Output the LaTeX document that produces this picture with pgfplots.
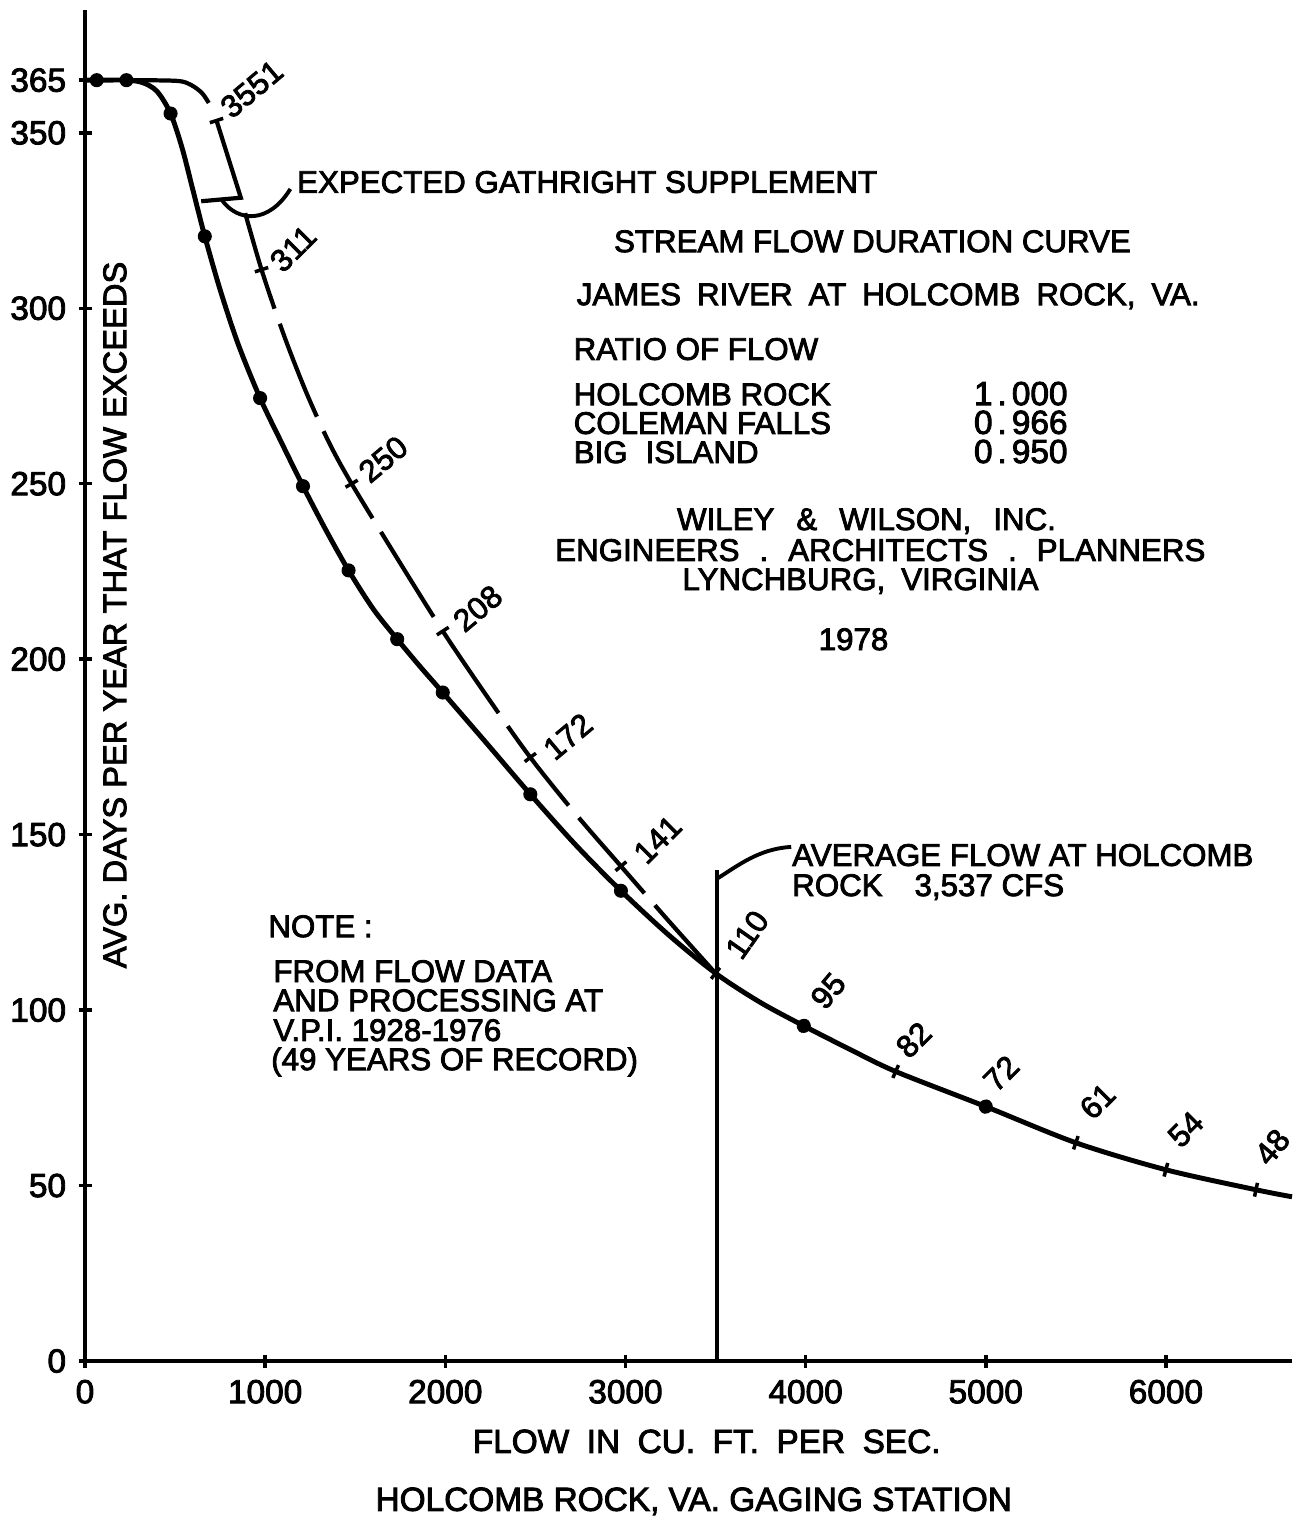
\documentclass[border=0pt]{standalone}
\usepackage{fontspec}
\setmainfont{Liberation Sans}[FakeBold=2.6]
\usepackage{pgfplots}
\pgfplotsset{compat=1.18}
\newcommand\fs{\fontsize{8.9}{8.9}\selectfont}
\newcommand\fl{\fontsize{9.5}{9.5}\selectfont}
\begin{document}
\begin{tikzpicture}
\begin{axis}[
  at={(0,0)}, anchor=south west,
  scale only axis, width=120.7mm, height=135.1mm,
  xmin=0, xmax=6700, ymin=0, ymax=385,
  axis x line=bottom, axis y line=left,
  axis line style={-, line width=1.2pt},
  xtick={0,1000,2000,3000,4000,5000,6000},
  ytick={0,50,100,150,200,250,300,350,365},
  tick align=center, major tick length=1.3mm,
  tick style={line width=1pt, black},
  ticklabel style={font=\fontsize{9.5}{9.5}\selectfont},
  /pgf/number format/assume math mode=true,
  /pgf/number format/1000 sep={},
  clip=false,
]
% main (solid) flow duration curve
\addplot[line width=1.4pt, smooth, tension=0.5] coordinates {
 (0,365) (65,365) (230,365) (320,364.3) (400,361.8) (475,355.5) (540,345.5)
 (600,333.5) (665,320.5) (750,305.3) (850,289.8) (972,274.4) (1090,261.8)
 (1210,249.3) (1335,237) (1463,225.3) (1600,214.3) (1733,205.7) (1860,197.9)
 (1986,190.5) (2230,176) (2472,161.5) (2725,147) (2975,134) (3240,121.4)
 (3500,110.5) (3745,102.3) (3990,95.5) (4250,88.7) (4500,82.5) (5000,72.5)
 (5500,62.2) (6000,54.5) (6500,48.8) (6700,46.8)};
% dots on the curve
\addplot[only marks, mark=*, mark size=1.8pt] coordinates {
 (65,365) (230,365) (475,355.5) (665,320.5) (972,274.4) (1210,249.3) (1463,225.3)
 (1733,205.7) (1986,190.5) (2472,161.5) (2975,134) (3990,95.5) (5000,72.5)};
% tick marks on the solid curve
\addplot[only marks, mark=|, mark size=2pt, mark options={line width=1pt, rotate=-38}] coordinates {(3500,110.5)};
\addplot[only marks, mark=|, mark size=2pt, mark options={line width=1pt, rotate=-28}] coordinates {(3990,95.5)};
\addplot[only marks, mark=|, mark size=2pt, mark options={line width=1pt, rotate=-24}] coordinates {(4500,82.5)};
\addplot[only marks, mark=|, mark size=2pt, mark options={line width=1pt, rotate=-21}] coordinates {(5000,72.5)};
\addplot[only marks, mark=|, mark size=2pt, mark options={line width=1pt, rotate=-19}] coordinates {(5500,62.2)};
\addplot[only marks, mark=|, mark size=2pt, mark options={line width=1pt, rotate=-15}] coordinates {(6000,54.5)};
\addplot[only marks, mark=|, mark size=2pt, mark options={line width=1pt, rotate=-12}] coordinates {(6500,48.8)};
% Gathright supplemented curve: top part (solid)
\addplot[line width=1.2pt, smooth] coordinates {
 (230,365) (510,364.8) (590,363.6) (650,361.3) (687,358.5)};
% bracket
\addplot[line width=1.2pt] coordinates {(645,330.5) (865,331.5) (730,353.5)};
% dashed supplemented curve
\addplot[line width=1.2pt, smooth, dash pattern=on 10mm off 1.6mm, dash phase=10mm] coordinates {
 (865,331.5) (980,311) (1105,292.2) (1230,275.8) (1355,261.7) (1480,250)
 (1730,229) (1986,208) (2230,189.5) (2472,172) (2725,155.8) (2975,141)
 (3240,125.4) (3500,110.5)};
% tick marks on dashed curve
\addplot[only marks, mark=|, mark size=2pt, mark options={line width=1pt, rotate=-72}] coordinates {(730,353.5)};
\addplot[only marks, mark=|, mark size=2pt, mark options={line width=1pt, rotate=-72}] coordinates {(980,311)};
\addplot[only marks, mark=|, mark size=2pt, mark options={line width=1pt, rotate=-60}] coordinates {(1480,250)};
\addplot[only marks, mark=|, mark size=2pt, mark options={line width=1pt, rotate=-57}] coordinates {(1986,208)};
\addplot[only marks, mark=|, mark size=2pt, mark options={line width=1pt, rotate=-53}] coordinates {(2472,172)};
\addplot[only marks, mark=|, mark size=2pt, mark options={line width=1pt, rotate=-50}] coordinates {(2975,141)};
% average flow line
\addplot[line width=1.1pt] coordinates {(3510,0) (3510,140)};
\draw[line width=1.1pt] (axis cs:3510,137.5) .. controls (axis cs:3620,141) and (axis cs:3740,146) .. (axis cs:3920,146.5);
% leader for Gathright supplement
\draw[line width=1.1pt] (axis cs:760,330.8) .. controls (axis cs:850,324.5) and (axis cs:1020,324) .. (axis cs:1140,334);

% curve labels
\node[font=\fs, rotate=40] at (axis cs:925,362.5) {3551};
\node[font=\fs, rotate=45] at (axis cs:1155,317) {311};
\node[font=\fs, rotate=40] at (axis cs:1655,257) {250};
\node[font=\fs, rotate=40] at (axis cs:2180,214.5) {208};
\node[font=\fs, rotate=40] at (axis cs:2680,178) {172};
\node[font=\fs, rotate=45] at (axis cs:3178,148.6) {141};
\node[font=\fs, rotate=55] at (axis cs:3675,121.5) {110};
\node[font=\fs, rotate=50] at (axis cs:4125,105.5) {95};
\node[font=\fs, rotate=45] at (axis cs:4600,91.5) {82};
\node[font=\fs, rotate=45] at (axis cs:5085,82) {72};
\node[font=\fs, rotate=45] at (axis cs:5620,74) {61};
\node[font=\fs, rotate=45] at (axis cs:6110,66) {54};
\node[font=\fs, rotate=50] at (axis cs:6590,61) {48};

% text blocks
\node[font=\fs, anchor=base west, inner sep=0] at (axis cs:1174,332.9) {EXPECTED GATHRIGHT SUPPLEMENT};
\node[font=\fs, anchor=base, inner sep=0] at (axis cs:4371,316.0) {STREAM FLOW DURATION CURVE};
\node[font=\fs, anchor=base west, inner sep=0] at (axis cs:2726,300.9) {JAMES\hspace{1.6mm}RIVER\hspace{1.6mm}AT\hspace{1.6mm}HOLCOMB\hspace{1.6mm}ROCK,\hspace{1.6mm}VA.};
\node[font=\fs, anchor=base west, inner sep=0] at (axis cs:2709,285.3) {RATIO OF FLOW};
\node[font=\fs, anchor=base west, inner sep=0] at (axis cs:2709,272.4) {HOLCOMB ROCK};
\node[font=\fs, anchor=base west, inner sep=0] at (axis cs:2709,264.2) {COLEMAN FALLS};
\node[font=\fs, anchor=base west, inner sep=0] at (axis cs:2709,255.9) {BIG\hspace{1.8mm}ISLAND};
\node[font=\fl, anchor=base west, inner sep=0] at (axis cs:4931,272.4) {1\hspace{0.5mm}.\hspace{0.5mm}000};
\node[font=\fl, anchor=base west, inner sep=0] at (axis cs:4931,264.2) {0\hspace{0.5mm}.\hspace{0.5mm}966};
\node[font=\fl, anchor=base west, inner sep=0] at (axis cs:4931,255.9) {0\hspace{0.5mm}.\hspace{0.5mm}950};
\node[font=\fs, anchor=base, inner sep=0] at (axis cs:4338,236.8) {WILEY\hspace{2.2mm}\&\hspace{2.2mm}WILSON,\hspace{2.2mm}INC.};
\node[font=\fs, anchor=base, inner sep=0] at (axis cs:4415,228.0) {ENGINEERS\hspace{2mm}.\hspace{2mm}ARCHITECTS\hspace{2mm}.\hspace{2mm}PLANNERS};
\node[font=\fs, anchor=base, inner sep=0] at (axis cs:4305,219.7) {LYNCHBURG,\hspace{1.6mm}VIRGINIA};
\node[font=\fs, anchor=base, inner sep=0] at (axis cs:4266,202.6) {1978};
\node[font=\fs, anchor=base west, inner sep=0] at (axis cs:3922,141.1) {AVERAGE FLOW AT HOLCOMB};
\node[font=\fs, anchor=base west, inner sep=0] at (axis cs:3922,132.5) {ROCK\hspace{3.2mm}3,537 CFS};
\node[font=\fs, anchor=base west, inner sep=0] at (axis cs:1014,120.8) {NOTE :};
\node[font=\fs, anchor=base west, inner sep=0] at (axis cs:1042,108.0) {FROM FLOW DATA};
\node[font=\fs, anchor=base west, inner sep=0] at (axis cs:1042,99.7) {AND PROCESSING AT};
\node[font=\fs, anchor=base west, inner sep=0] at (axis cs:1042,91.2) {V.P.I. 1928-1976};
\node[font=\fs, anchor=base west, inner sep=0] at (axis cs:1030,82.9) {(49 YEARS OF RECORD)};
% axis labels
\node[font=\fl, anchor=base, inner sep=0] at (axis cs:3451,-26.2) {FLOW\hspace{1.75mm}IN\hspace{1.75mm}CU.\hspace{1.75mm}FT.\hspace{1.75mm}PER\hspace{1.75mm}SEC.};
\node[font=\fl, anchor=base, inner sep=0] at (axis cs:3379,-42.7) {HOLCOMB ROCK, VA. GAGING STATION};
\node[font=\fontsize{9.3}{9.3}\selectfont, rotate=90, inner sep=0] at (axis cs:166,212.6) {AVG. DAYS PER YEAR THAT FLOW EXCEEDS};
\end{axis}
\pgfresetboundingbox
\path (-8.5mm,-15.7mm) rectangle (121.8mm,136.1mm);
\end{tikzpicture}
\end{document}
